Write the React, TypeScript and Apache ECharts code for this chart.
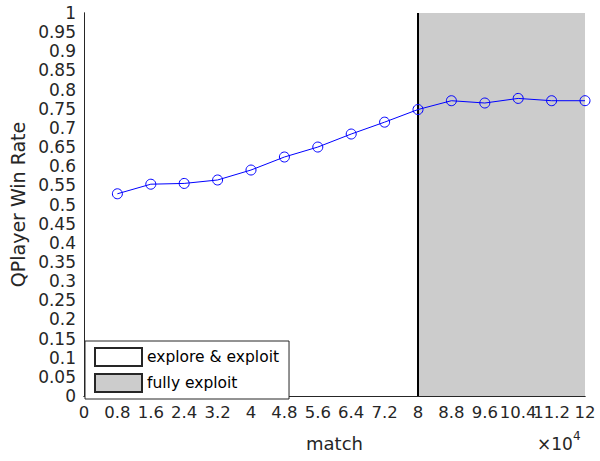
import React, { useEffect, useRef } from "react";
import * as echarts from "echarts";

const matchX = [0.8, 1.6, 2.4, 3.2, 4, 4.8, 5.6, 6.4, 7.2, 8, 8.8, 9.6, 10.4, 11.2, 12];
const winRate = [0.528, 0.553, 0.555, 0.564, 0.59, 0.624, 0.65, 0.684, 0.715, 0.748, 0.771, 0.765, 0.777, 0.771, 0.771];
const exploitStart = 8;
const exploitEnd = 12;
const legendNames = ["explore & exploit", "fully exploit"];

const FONT = "'DejaVu Sans', sans-serif";
const TXT = "#262626";

export default function App() {
  const ref = useRef<HTMLDivElement>(null);
  useEffect(() => {
    if (!ref.current) return;
    const chart = echarts.init(ref.current, undefined, { renderer: "svg" });
    const fmt = (v: number) => String(parseFloat(v.toFixed(2)));
    chart.setOption({
      animation: false,
      textStyle: { fontFamily: FONT },
      grid: { left: 84, right: 15, top: 13, bottom: 65, show: false },
      legend: {
        data: legendNames,
        orient: "vertical",
        left: 85,
        top: 341,
        icon: "rect",
        itemWidth: 47,
        itemHeight: 18,
        itemGap: 6,
        padding: [6, 10, 6, 9],
        backgroundColor: "#ffffff",
        borderColor: TXT,
        borderWidth: 1,
        borderRadius: 0,
        selectedMode: false,
        z: 20,
        textStyle: { fontSize: 15.5, color: "#000", fontFamily: FONT },
      },
      xAxis: [
        {
          type: "value",
          min: 0,
          max: 12,
          interval: 0.8,
          z: 10,
          name: "match",
          nameLocation: "middle",
          nameGap: 38,
          nameTextStyle: { fontSize: 18, color: TXT, fontFamily: FONT },
          axisLine: { show: true, lineStyle: { color: TXT, width: 1 } },
          axisTick: { show: false },
          splitLine: { show: false },
          axisLabel: { formatter: fmt, fontSize: 16.5, color: TXT, margin: 8, fontFamily: FONT, showMinLabel: true, showMaxLabel: true },
        },
        {
          type: "value",
          position: "top",
          min: 0,
          max: 12,
          interval: 0.8,
          z: 10,
          axisLine: { show: true, lineStyle: { color: TXT, width: 1 } },
          axisTick: { show: false },
          axisLabel: { show: false },
          splitLine: { show: false },
        },
      ],
      yAxis: [
        {
          type: "value",
          min: 0,
          max: 1,
          interval: 0.05,
          z: 10,
          name: "QPlayer Win Rate",
          nameLocation: "middle",
          nameGap: 50,
          nameTextStyle: { fontSize: 19, color: TXT, fontFamily: FONT },
          axisLine: { show: true, lineStyle: { color: TXT, width: 1 } },
          axisTick: { show: false },
          splitLine: { show: false },
          axisLabel: { formatter: fmt, fontSize: 17, color: TXT, margin: 8, fontFamily: FONT },
        },
        {
          type: "value",
          position: "right",
          min: 0,
          max: 1,
          interval: 0.05,
          z: 10,
          axisLine: { show: true, lineStyle: { color: TXT, width: 1 } },
          axisTick: { show: false },
          axisLabel: { show: false },
          splitLine: { show: false },
        },
      ],
      series: [
        {
          name: legendNames[0],
          type: "bar",
          data: [],
          itemStyle: { color: "#ffffff", borderColor: TXT, borderWidth: 1 },
        },
        {
          name: legendNames[1],
          type: "bar",
          data: [],
          itemStyle: { color: "#cccccc", borderColor: TXT, borderWidth: 1 },
        },
        {
          name: "win",
          type: "line",
          data: matchX.map((x, i) => [x, winRate[i]]),
          symbol: "circle",
          symbolSize: 10,
          z: 5,
          lineStyle: { color: "#0000ff", width: 1 },
          itemStyle: { color: "rgba(0,0,0,0)", borderColor: "#0000ff", borderWidth: 1 },
          markArea: {
            silent: true,
            itemStyle: { color: "#cccccc" },
            data: [[{ xAxis: exploitStart }, { xAxis: exploitEnd }]],
          },
          markLine: {
            silent: true,
            symbol: "none",
            label: { show: false },
            lineStyle: { color: "#000", width: 2, type: "solid" },
            data: [{ xAxis: exploitStart }],
          },
        },
      ],
      graphic: [
        {
          type: "text",
          left: 537,
          top: 430,
          style: {
            text: "{a|×10}{b|4}",
            rich: {
              a: { fontSize: 17, fill: TXT, fontFamily: FONT, verticalAlign: "bottom" },
              b: { fontSize: 12, fill: TXT, fontFamily: FONT, verticalAlign: "top", padding: [0, 0, 10, 0] },
            },
          },
        },
      ],
    });
    return () => chart.dispose();
  }, []);
  return <div ref={ref} style={{ width: 600, height: 461, position: "absolute", left: 0, top: 0, background: "#fff" }} />;
}
